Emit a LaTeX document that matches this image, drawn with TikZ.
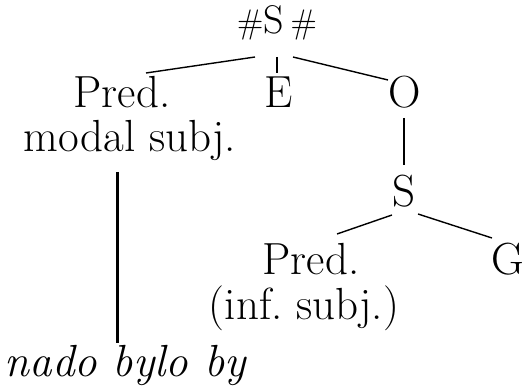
\documentclass[tikz,border=0pt]{standalone}
\usepackage{tikz}
\usetikzlibrary{positioning}

\newcommand{\smallhash}{{\fontsize{34}{34}\selectfont\#}}

\begin{document}
\begin{tikzpicture}[x=1pt,y=-1pt,
    lbl/.style={inner sep=0pt,anchor=base,font=\fontsize{45}{45}\selectfont},
    branch/.style={line width=1.4pt},
    stemline/.style={line width=3pt}]
  \useasboundingbox (0,0) rectangle (531,387);
  % nodes
  \node[lbl,font=\fontsize{40}{40}\selectfont] (root) at (277,34) {\smallhash S\,\smallhash};
  \node[lbl] (pred) at (122,108) {Pred.};
  \node[lbl] (modal) at (130,152) {modal subj.};
  \node[lbl] (e) at (279,108) {E};
  \node[lbl] (o) at (405,108) {O};
  \node[lbl] (s) at (404,207) {S};
  \node[lbl] (predinf) at (311,275) {Pred.};
  \node[lbl] (inf) at (304,320) {(inf.\ subj.)};
  \node[lbl,anchor=base west] (g) at (491,275) {G};
  \node[lbl] (nado) at (126,377) {\textit{nado bylo by}};
  % branches
  \draw[branch] ([shift={(-22,23)}]root.base) -- ([shift={(24,-35)}]pred.base);
  \draw[branch] ([shift={(0,23)}]root.base) -- ([shift={(-2,-35)}]e.base);
  \draw[branch] ([shift={(16,23)}]root.base) -- ([shift={(-17,-28)}]o.base);
  \draw[branch] ([shift={(-1,10)}]o.base) -- ([shift={(0,-42)}]s.base);
  \draw[branch] ([shift={(-12,8)}]s.base) -- ([shift={(26,-41)}]predinf.base);
  \draw[branch] ([shift={(14,7)}]s.base) -- ([shift={(1,-37)}]g.base west);
  \draw[stemline] ([shift={(-13,20)}]modal.base) -- ([shift={(-9,-34)}]nado.base);
\end{tikzpicture}
\end{document}
